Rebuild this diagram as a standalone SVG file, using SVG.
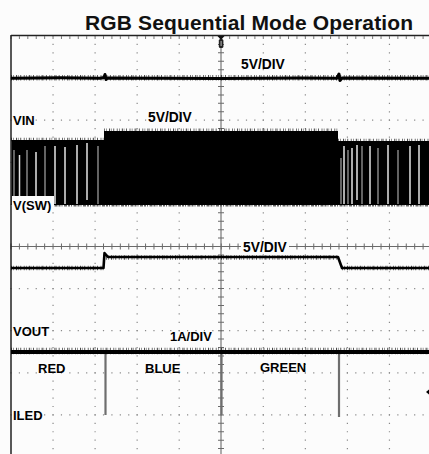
<svg xmlns="http://www.w3.org/2000/svg" width="429" height="454" viewBox="0 0 429 454">
<style>
.lbl{font-family:"Liberation Sans",Arial,sans-serif;font-size:13px;font-weight:bold;fill:#000}
.div{font-size:13.8px}
.title{font-family:"Liberation Sans",Arial,sans-serif;font-size:21px;font-weight:bold;fill:#111}
.gh{stroke:#8a8a8a;stroke-width:1.2;fill:none;stroke-dasharray:1.2 7.21}
.gv{stroke:#8a8a8a;stroke-width:1.2;fill:none;stroke-dasharray:1.2 7.22}
.axis{stroke:#6a6a6a;stroke-width:1.1;fill:none}
.tick{stroke:#6a6a6a;stroke-width:6;fill:none;stroke-dasharray:1 7.42}
.trace{stroke:#000;fill:none;stroke-linejoin:round}
.fuzz{stroke:#000;fill:none;stroke-dasharray:0.8 1.4 0.6 2.2 1.1 0.9 0.5 1.8 0.9 2.6;opacity:0.7}
.st{stroke:#e4e4e4;stroke-width:1.5}
.st2{stroke:#9a9a9a;stroke-width:1.3}
.spike{stroke:#6e6e6e;stroke-width:2.2}
</style>
<rect width="429" height="454" fill="#fcfcfc"/>
<text class="title" x="85" y="30" textLength="328">RGB Sequential Mode Operation</text>

<g id="grid">
<line class="gh" x1="10.4" y1="78.1" x2="429" y2="78.1"/>
<line class="gh" x1="10.4" y1="120.2" x2="429" y2="120.2"/>
<line class="gh" x1="10.4" y1="162.3" x2="429" y2="162.3"/>
<line class="gh" x1="10.4" y1="204.4" x2="429" y2="204.4"/>
<line class="gh" x1="10.4" y1="288.6" x2="429" y2="288.6"/>
<line class="gh" x1="10.4" y1="330.7" x2="429" y2="330.7"/>
<line class="gh" x1="10.4" y1="372.8" x2="429" y2="372.8"/>
<line class="gh" x1="10.4" y1="414.9" x2="429" y2="414.9"/>
<line class="gv" x1="53.05" y1="35.4" x2="53.05" y2="454"/>
<line class="gv" x1="95.1" y1="35.4" x2="95.1" y2="454"/>
<line class="gv" x1="137.15" y1="35.4" x2="137.15" y2="454"/>
<line class="gv" x1="179.2" y1="35.4" x2="179.2" y2="454"/>
<line class="gv" x1="263.3" y1="35.4" x2="263.3" y2="454"/>
<line class="gv" x1="305.35" y1="35.4" x2="305.35" y2="454"/>
<line class="gv" x1="347.4" y1="35.4" x2="347.4" y2="454"/>
<line class="gv" x1="389.45" y1="35.4" x2="389.45" y2="454"/>
<line class="axis" x1="221" y1="36" x2="221" y2="454"/>
<line class="tick" x1="221" y1="35.5" x2="221" y2="454"/>
<line class="axis" x1="11" y1="246.5" x2="429" y2="246.5"/>
<line class="tick" x1="10.5" y1="246.5" x2="429" y2="246.5" style="stroke-dasharray:1 7.41"/>
<line x1="11" y1="35.5" x2="429" y2="35.5" stroke="#222" stroke-width="1.5"/>
<line x1="10.5" y1="37.5" x2="429" y2="37.5" stroke="#777" stroke-width="3" stroke-dasharray="1 7.41"/>
<line x1="11" y1="35" x2="11" y2="454" stroke="#222" stroke-width="1.5"/>
</g>

<g id="markers">
<polygon points="217.5,36 224.5,36 221,40" fill="#111"/>
<rect x="218.8" y="39" width="4.6" height="9" rx="1.6" fill="#222"/>
<line x1="221.1" y1="41" x2="221.1" y2="46" stroke="#bbb" stroke-width="1"/>
<polygon points="426,392 429,389.5 429,394.5" fill="#000"/>
</g>

<g id="vin">
<line class="fuzz" x1="11" y1="77.8" x2="429" y2="77.8" stroke-width="5.5"/>
<path class="trace" stroke-width="3" d="M11,78.2 L60,77.8 L100,78.3 L104,77.6 L105,74.5 L106,79.5 L107.5,78 L220,78.4 L300,77.9 L337,78.2 L339,74 L340,80.5 L342,78 L429,78.3"/>
</g>

<g id="vsw">
<rect x="11.5" y="140" width="92.5" height="65" fill="#000"/>
<rect x="104" y="131" width="234" height="74" fill="#000"/>
<rect x="338" y="141" width="91" height="64" fill="#000"/>
<line class="fuzz" x1="11" y1="139.5" x2="104" y2="139.5" stroke-width="3.5"/>
<line class="fuzz" x1="104" y1="130.5" x2="338" y2="130.5" stroke-width="4"/>
<line class="fuzz" x1="338" y1="140.5" x2="429" y2="140.5" stroke-width="3.5"/>
<line x1="11" y1="205.8" x2="429" y2="205.8" stroke="#666" stroke-width="1.5" stroke-dasharray="2 1 1 1.5 3 1"/>
<line class="st2" x1="14" y1="150" x2="14" y2="200"/>
<line class="st" x1="19.5" y1="155" x2="19.5" y2="204"/>
<line class="st2" x1="27" y1="150" x2="27" y2="203"/>
<line class="st" x1="36" y1="152" x2="36" y2="204"/>
<line class="st2" x1="45" y1="146" x2="45" y2="204"/>
<line class="st" x1="55" y1="146" x2="55" y2="204"/>
<line class="st" x1="65" y1="147" x2="65" y2="204"/>
<line class="st" x1="77" y1="145" x2="77" y2="204"/>
<line class="st" x1="87" y1="143" x2="87" y2="200"/>
<line class="st2" x1="98" y1="146" x2="98" y2="204"/>
<line class="st2" x1="341" y1="158" x2="341" y2="204"/>
<line class="st" x1="344" y1="146" x2="344" y2="204"/>
<line class="st2" x1="348" y1="150" x2="348" y2="204"/>
<line class="st" x1="352" y1="148" x2="352" y2="204"/>
<line class="st" x1="357" y1="145" x2="357" y2="200"/>
<line class="st2" x1="362" y1="146" x2="362" y2="204"/>
<line class="st" x1="370" y1="146" x2="370" y2="204"/>
<line class="st2" x1="378" y1="148" x2="378" y2="204"/>
<line class="st" x1="388" y1="145" x2="388" y2="204"/>
<line class="st2" x1="398" y1="150" x2="398" y2="204"/>
<line class="st" x1="410" y1="146" x2="410" y2="204"/>
<line class="st" x1="419" y1="145" x2="419" y2="204"/>
</g>

<g id="vout">
<line class="fuzz" x1="11" y1="268" x2="104" y2="268" stroke-width="4.5"/>
<line class="fuzz" x1="106" y1="257.5" x2="338" y2="257.5" stroke-width="4.5"/>
<line class="fuzz" x1="342" y1="268" x2="429" y2="268" stroke-width="4.5"/>
<path class="trace" stroke-width="2.6" d="M11,268 H103.5 L104.5,253 L108,257 H338 L342,268 H429"/>
</g>

<g id="iled">
<line class="spike" x1="105.5" y1="352" x2="105.5" y2="415"/>
<line class="spike" x1="221.5" y1="352" x2="221.5" y2="415"/>
<line class="spike" x1="339" y1="352" x2="339" y2="417"/>
<line class="fuzz" x1="11" y1="351" x2="429" y2="351" stroke-width="6.5"/>
<path class="trace" stroke-width="3.8" d="M11,352 H429"/>
</g>

<g id="labels">
<text class="lbl div" x="241" y="69">5V/DIV</text>
<text class="lbl" x="13" y="125">VIN</text>
<text class="lbl div" x="148" y="122">5V/DIV</text>
<rect x="12" y="196" width="42" height="15" fill="#fcfcfc"/>
<text class="lbl" x="13" y="209.5">V(SW)</text>
<rect x="241" y="239" width="48" height="15" fill="#fcfcfc"/>
<text class="lbl div" x="243" y="252">5V/DIV</text>
<text class="lbl" x="13" y="336">VOUT</text>
<text class="lbl" x="170" y="341">1A/DIV</text>
<text class="lbl" x="38" y="373">RED</text>
<text class="lbl" x="145" y="373">BLUE</text>
<text class="lbl" x="260" y="372">GREEN</text>
<text class="lbl" x="13" y="420">ILED</text>
</g>
</svg>
